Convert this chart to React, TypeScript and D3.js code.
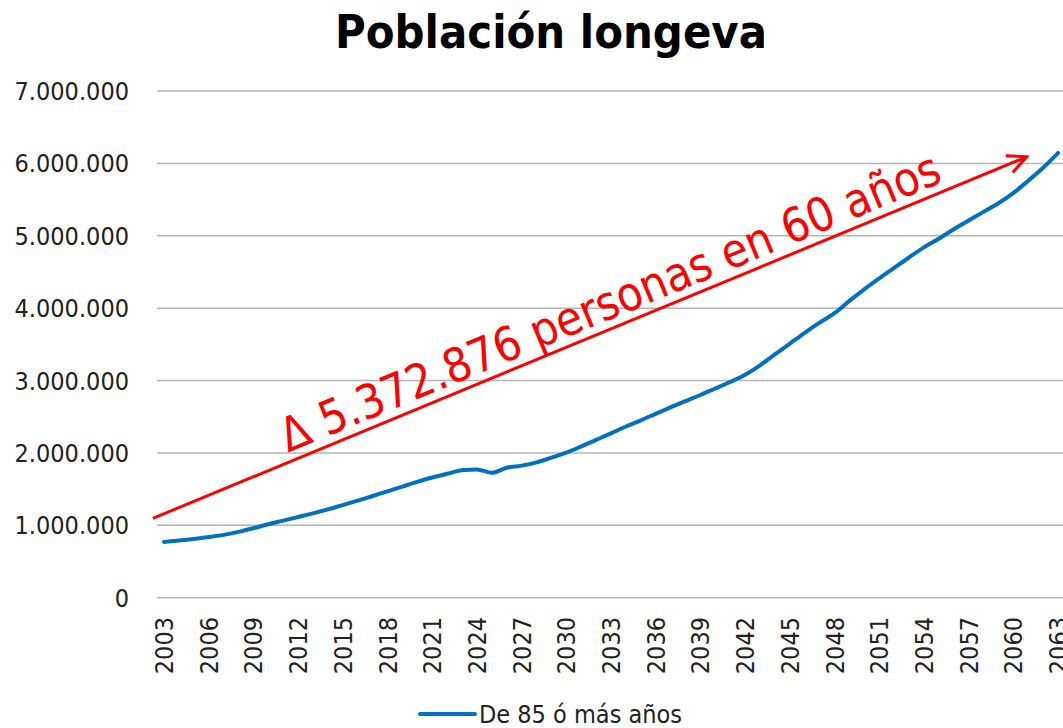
import * as d3 from "d3";
import { useEffect, useRef } from "react";

const title = "Población longeva";
const seriesName = "De 85 ó más años";
const years = d3.range(2003, 2064);
const values = [
  771000, 790000, 812000, 838000, 868000, 910000, 960000, 1015000, 1065000,
  1115000, 1165000, 1220000, 1280000, 1340000, 1405000, 1470000, 1535000,
  1600000, 1660000, 1712000, 1760000, 1770000, 1725000, 1795000, 1825000,
  1870000, 1935000, 2005000, 2090000, 2180000, 2270000, 2365000, 2450000,
  2540000, 2630000, 2715000, 2800000, 2890000, 2980000, 3080000, 3210000,
  3360000, 3510000, 3660000, 3800000, 3930000, 4100000, 4260000, 4410000,
  4555000, 4700000, 4840000, 4960000, 5090000, 5210000, 5330000, 5450000,
  5590000, 5760000, 5940000, 6143876,
];
const yTicks = [0, 1000000, 2000000, 3000000, 4000000, 5000000, 6000000, 7000000];
const xTickYears = d3.range(2003, 2064, 3);
// arrow annotation endpoints, in data units [year, persons]
const arrowFrom = [2002.25, 1096000];
const arrowTo = [2060.9, 6090000];
const annotation = "Δ 5.372.876 personas en 60 años";

const font = "'DejaVu Sans Condensed', 'DejaVu Sans', sans-serif";

export default function App() {
  const svgRef = useRef(null);
  const width = 1063;
  const height = 728;

  useEffect(() => {
    const svg = d3.select(svgRef.current);
    svg.selectAll("*").remove();

    const x = d3.scaleLinear().domain([2003, 2063]).range([164, 1058]);
    const y = d3.scaleLinear().domain([0, 7000000]).range([597.7, 91]);
    const fmt = d3
      .formatLocale({ decimal: ",", thousands: ".", grouping: [3], currency: ["", ""] })
      .format(",");

    // title
    svg
      .append("text")
      .attr("x", 551)
      .attr("y", 48)
      .attr("text-anchor", "middle")
      .attr("font-family", font)
      .attr("font-weight", "bold")
      .attr("font-size", 46)
      .attr("textLength", 432)
      .attr("lengthAdjust", "spacingAndGlyphs")
      .text(title);

    // gridlines + y labels
    const yAxis = svg.append("g");
    yAxis
      .selectAll("line")
      .data(yTicks)
      .enter()
      .append("line")
      .attr("x1", 157)
      .attr("x2", width)
      .attr("y1", (d) => y(d))
      .attr("y2", (d) => y(d))
      .attr("stroke", "#b4b4b4")
      .attr("stroke-width", 1.5);
    yAxis
      .selectAll("text")
      .data(yTicks)
      .enter()
      .append("text")
      .attr("x", 129)
      .attr("y", (d) => y(d) + 9)
      .attr("text-anchor", "end")
      .attr("font-family", font)
      .attr("font-size", 25)
      .attr("fill", "#222")
      .text((d) => fmt(d));

    // x labels (rotated)
    svg
      .append("g")
      .selectAll("text")
      .data(xTickYears)
      .enter()
      .append("text")
      .attr("transform", (d) => `translate(${x(d) + 9},617) rotate(-90)`)
      .attr("text-anchor", "end")
      .attr("font-family", font)
      .attr("font-size", 25)
      .attr("fill", "#222")
      .text((d) => d);

    // series line
    const line = d3
      .line<number>()
      .x((_, i) => x(years[i]))
      .y((d) => y(d))
      .curve(d3.curveMonotoneX);
    svg
      .append("path")
      .datum(values)
      .attr("d", line)
      .attr("fill", "none")
      .attr("stroke", "#0070C0")
      .attr("stroke-width", 4)
      .attr("stroke-linecap", "round");

    // red arrow
    const x0 = x(arrowFrom[0]);
    const y0 = y(arrowFrom[1]);
    const x1 = x(arrowTo[0]);
    const y1 = y(arrowTo[1]);
    const ang = Math.atan2(y1 - y0, x1 - x0);
    const head = 21;
    const spread = 0.45;
    const ann = svg.append("g").attr("stroke", "#FF0000").attr("fill", "none");
    ann
      .append("line")
      .attr("x1", x0)
      .attr("y1", y0)
      .attr("x2", x1)
      .attr("y2", y1)
      .attr("stroke-width", 3);
    ann
      .append("path")
      .attr(
        "d",
        `M${x1 - head * Math.cos(ang - spread)},${y1 - head * Math.sin(ang - spread)}` +
          `L${x1},${y1}` +
          `L${x1 - head * Math.cos(ang + spread)},${y1 - head * Math.sin(ang + spread)}`,
      )
      .attr("stroke-width", 3)
      .attr("stroke-linejoin", "miter");

    // annotation text along the arrow
    const ux = Math.cos(ang);
    const uy = Math.sin(ang);
    const along = 150;
    const off = 9;
    const tx = x0 + along * ux + off * uy;
    const ty = y0 + along * uy - off * ux;
    svg
      .append("text")
      .attr("transform", `translate(${tx},${ty}) rotate(${(ang * 180) / Math.PI})`)
      .attr("font-family", font)
      .attr("font-size", 47)
      .attr("fill", "#FF0000")
      .attr("textLength", 710)
      .attr("lengthAdjust", "spacingAndGlyphs")
      .text(annotation);

    // legend
    const lg = svg.append("g");
    lg.append("line")
      .attr("x1", 420)
      .attr("x2", 475)
      .attr("y1", 714)
      .attr("y2", 714)
      .attr("stroke", "#0070C0")
      .attr("stroke-width", 4)
      .attr("stroke-linecap", "round");
    lg.append("text")
      .attr("x", 479)
      .attr("y", 723)
      .attr("font-family", font)
      .attr("font-size", 25)
      .attr("fill", "#222")
      .text(seriesName);
  }, []);

  return (
    <svg
      ref={svgRef}
      width={width}
      height={height}
      style={{ position: "absolute", left: 0, top: 0, background: "#fff" }}
    ></svg>
  );
}
